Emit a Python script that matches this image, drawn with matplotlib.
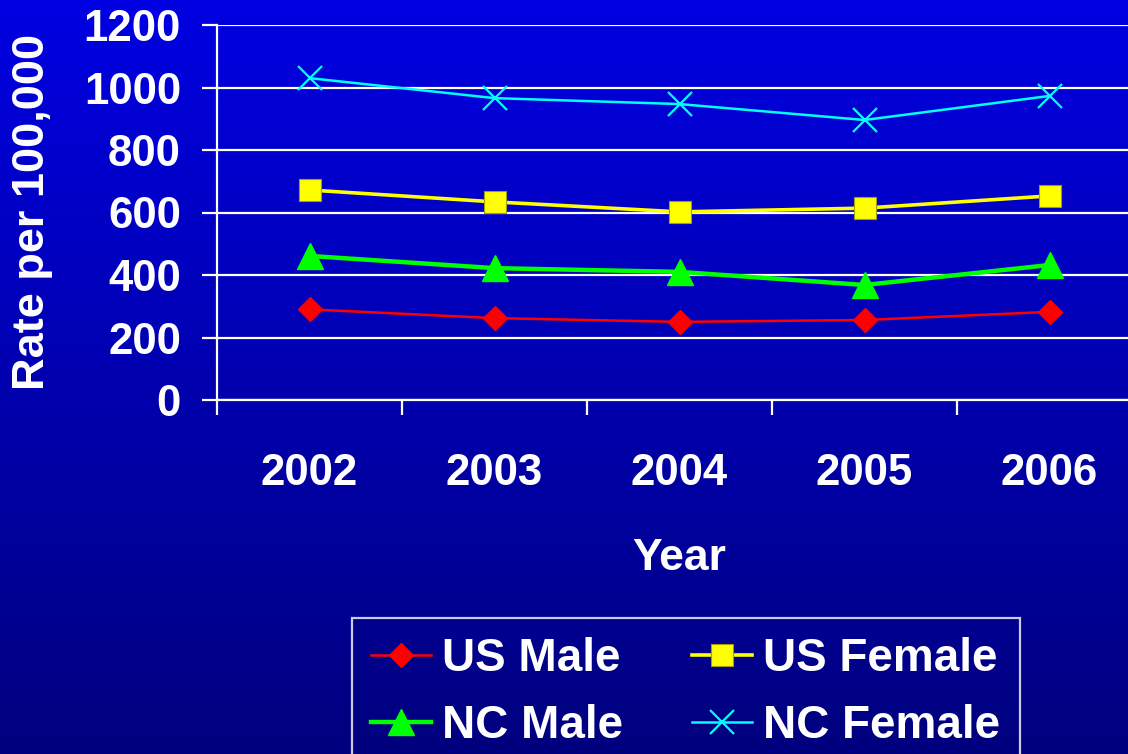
import numpy as np
import matplotlib.pyplot as plt
from matplotlib.colors import LinearSegmentedColormap

# data
years = ['2002', '2003', '2004', '2005', '2006']
us_male = [290, 262, 250, 256, 282]
us_female = [672, 634, 602, 614, 653]
nc_male = [461, 422, 410, 368, 432]
nc_female = [1030, 966, 947, 896, 973]
y_ticks = [0, 200, 400, 600, 800, 1000, 1200]

plt.rcParams['font.family'] = ['Liberation Sans', 'DejaVu Sans']
plt.rcParams['font.weight'] = 'bold'

fig = plt.figure(figsize=(11.28, 7.54), dpi=100)

# blue gradient background
bg = fig.add_axes([0, 0, 1, 1], zorder=-10)
grad = np.linspace(0, 1, 256).reshape(-1, 1)
cmap = LinearSegmentedColormap.from_list('bg', ['#0000E2', '#00007E'])
bg.imshow(grad, aspect='auto', cmap=cmap, extent=[0, 1, 0, 1])
bg.axis('off')

# main axes (right edge runs past the figure like the original)
ax = fig.add_axes([217 / 1128, 1 - 400 / 754, 925 / 1128, 375 / 754])
ax.patch.set_alpha(0)

x = np.arange(len(years))
l_usm, = ax.plot(x, us_male, color='#FF0000', lw=1.8, marker='D', ms=12,
                 mec='#FF0000', label='US Male', zorder=6)
l_ncm, = ax.plot(x, nc_male, color='#00FF00', lw=3.2, marker='^', ms=19,
                 mec='#00FF00', label='NC Male', zorder=5)
l_usf, = ax.plot(x, us_female, color='#FFFF00', lw=2.6, marker='s', ms=16,
                 mec='#A0A000', mew=0.8, label='US Female', zorder=4)
l_ncf, = ax.plot(x, nc_female, color='#00FFFF', lw=1.8, marker='x', ms=17,
                 mew=1.6, label='NC Female', zorder=3)

ax.set_xlim(-0.5, 4.5)
ax.set_ylim(0, 1200)
ax.set_yticks(y_ticks)
ax.set_xticks(x)
ax.set_xticklabels(years)
ax.set_xticks(np.arange(-0.5, 5, 1), minor=True)
ax.yaxis.grid(True, color='white', lw=1.6)
ax.set_axisbelow(True)

for s in ['top', 'right']:
    ax.spines[s].set_visible(False)
for s in ['left', 'bottom']:
    ax.spines[s].set_color('white')
    ax.spines[s].set_linewidth(1.6)

ax.tick_params(axis='y', colors='white', labelsize=31.5, length=11, width=1.6, pad=15)
ax.tick_params(axis='x', which='major', colors='white', labelsize=31.5, length=0, pad=38)
ax.tick_params(axis='x', which='minor', colors='white', length=11, width=1.6)
for lbl in ax.get_xticklabels() + ax.get_yticklabels():
    lbl.set_fontweight('bold')

fig.text(33 / 1128, 1 - 212 / 754, 'Rate per 100,000', rotation=90, ha='center',
         va='center', color='white', fontsize=32.5, fontweight='bold')
fig.text(679 / 1128, 1 - 558 / 754, 'Year', ha='center', va='center',
         color='white', fontsize=32, fontweight='bold')

# legend: two columns, filled column by column
leg = fig.legend([l_usm, l_ncm, l_usf, l_ncf],
                 ['US Male', 'NC Male', 'US Female', 'NC Female'],
                 ncol=2, loc='upper left',
                 bbox_to_anchor=(352 / 1128, 1 - 618 / 754), fontsize=33,
                 frameon=True, fancybox=False, handlelength=1.3,
                 handletextpad=0.25, columnspacing=1.5, borderpad=0.42,
                 borderaxespad=0, labelspacing=0.5, markerscale=1.0)
leg.get_frame().set_facecolor('none')
leg.get_frame().set_edgecolor('white')
leg.get_frame().set_linewidth(1.6)
for t in leg.get_texts():
    t.set_color('white')
    t.set_fontweight('bold')

fig.savefig('out.png', dpi=100)
